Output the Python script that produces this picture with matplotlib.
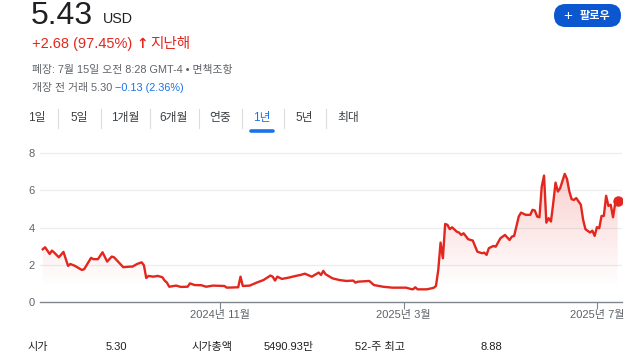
import numpy as np
import matplotlib.pyplot as plt
from matplotlib.patches import FancyBboxPatch

# Trading-day index (0 = start of the 1-year window) and closing price (USD)
day = [0, 1, 3, 4, 5, 7, 9, 11, 12, 14, 17, 18, 21, 22, 24, 26, 28, 30, 31, 35,
       38, 39, 41, 43, 44, 45, 46, 48, 50, 52, 53, 54, 55, 58, 60, 63, 64, 66, 69, 71,
       74, 79, 80, 85, 86, 87, 90, 93, 96, 99, 100, 101, 102, 104, 107, 110, 112, 114, 117, 119,
       120, 121, 122, 123, 126, 129, 132, 135, 136, 137, 142, 144, 148, 152, 158, 160, 161, 162, 163, 167,
       170, 171, 172, 173, 174, 175, 176, 177, 178, 180, 181, 182, 183, 185, 187, 189, 191, 192, 193, 194,
       196, 197, 199, 201, 203, 204, 205, 207, 208, 210, 212, 213, 214, 215, 216, 217, 218, 219, 220, 221,
       222, 223, 224, 225, 227, 228, 229, 230, 231, 232, 234, 235, 236, 238, 239, 240, 241, 242, 243, 244,
       245, 246, 247, 248, 249, 250]
price = [2.83, 2.94, 2.58, 2.76, 2.65, 2.40, 2.69, 1.94, 2.04, 1.94, 1.72, 1.76, 2.37, 2.30, 2.30, 2.67, 2.17, 2.44, 2.40, 1.87,
         1.90, 1.90, 2.04, 2.13, 1.97, 1.29, 1.40, 1.36, 1.40, 1.33, 1.15, 1.04, 0.82, 0.88, 0.81, 0.82, 1.00, 0.91, 0.90, 0.82,
         0.88, 0.86, 0.77, 0.79, 1.36, 0.86, 0.88, 1.04, 1.18, 1.42, 1.36, 1.15, 1.36, 1.24, 1.31, 1.40, 1.45, 1.52, 1.36, 1.51,
         1.58, 1.45, 1.67, 1.49, 1.27, 1.18, 1.13, 1.15, 1.04, 1.09, 1.13, 0.91, 0.82, 0.77, 0.77, 0.70, 0.68, 0.79, 0.68, 0.68,
         0.76, 0.86, 1.72, 3.19, 2.35, 4.19, 4.14, 3.91, 4.01, 3.78, 3.73, 3.60, 3.69, 3.37, 3.30, 2.70, 2.62, 2.65, 2.53, 2.89,
         3.01, 2.97, 3.42, 3.60, 3.33, 3.51, 3.55, 4.59, 4.80, 4.68, 4.68, 4.95, 4.91, 4.59, 4.55, 6.20, 6.79, 4.26, 4.50, 4.32,
         5.31, 6.41, 5.93, 6.11, 6.88, 6.60, 5.93, 5.52, 5.48, 5.58, 5.22, 4.41, 3.91, 3.73, 3.83, 3.55, 4.02, 3.96, 4.62, 4.62,
         5.70, 5.16, 5.22, 4.55, 5.34, 5.43]

yticks = [0, 2, 4, 6, 8]
xtick_pos = [77, 157, 241]
xtick_labels = ['2024년 11월', '2025년 3월', '2025년 7월']
tabs = ['1일', '5일', '1개월', '6개월', '연중', '1년', '5년', '최대']

RED = '#e3261e'
BLUE = '#1a73e8'
GRAY = '#5f6368'
DARK = '#202124'
plt.rcParams['font.family'] = ['Liberation Sans', 'Noto Sans CJK KR', 'DejaVu Sans']

W, H = 640, 360
fig = plt.figure(figsize=(6.4, 3.6), dpi=100)

# overlay axes in pixel coordinates for the page furniture
pg = fig.add_axes([0, 0, 1, 1])
pg.set_xlim(0, W)
pg.set_ylim(H, 0)
pg.axis('off')

# Chart area
ymax = 8.3
ax = fig.add_axes([40 / W, 1 - 302 / H, 582 / W, ymax * 18.625 / H])
xmin, xmax = -1.2, 251.9

ax.plot(day, price, color=RED, lw=1.7, solid_joinstyle='round', zorder=3)
ax.plot(day[-1], price[-1], 'o', color=RED, ms=6.5, zorder=4)

# gradient fill under the line
poly = ax.fill_between(day, price, 0, facecolor='none', edgecolor='none')
vals = np.linspace(0, ymax, 200)
img = np.zeros((200, 1, 4))
img[:, 0, 0], img[:, 0, 1], img[:, 0, 2] = 0.89, 0.15, 0.12
img[:, 0, 3] = np.clip((vals - 0.8) / 6.2, 0, 1) * 0.22
im = ax.imshow(img, aspect='auto', origin='lower', extent=[xmin, xmax, 0, ymax], zorder=2)
im.set_clip_path(poly.get_paths()[0], transform=ax.transData)

ax.set_xlim(xmin, xmax)
ax.set_ylim(0, ymax)
ax.patch.set_alpha(0)
for s in ['top', 'right', 'left']:
    ax.spines[s].set_visible(False)
ax.spines['bottom'].set_color('#80868b')
ax.spines['bottom'].set_linewidth(1)
ax.set_yticks(yticks)
ax.set_yticklabels([str(v) for v in yticks])
ax.tick_params(axis='y', length=0, pad=4, labelsize=8, labelcolor=GRAY)
for v in yticks[1:]:
    ax.axhline(v, color='#ebedef', lw=0.9, zorder=1)
ax.set_xticks(xtick_pos)
ax.set_xticklabels(xtick_labels)
ax.tick_params(axis='x', length=5, width=0.8, color='#80868b', pad=1, labelsize=8, labelcolor=GRAY)

# Header
pg.text(31, 23.5, '5.43', fontsize=23, color=DARK, va='baseline', ha='left')
pg.text(103, 23, 'USD', fontsize=10.3, color=DARK, va='baseline', ha='left')
pg.text(32, 48, '+2.68 (97.45%)', fontsize=10.5, color=RED, va='baseline', ha='left')
pg.text(136, 48, '↑', fontsize=10, color=RED, va='baseline', ha='left', fontweight='bold',
        family=['DejaVu Sans'])
pg.text(150, 48, '지난해', fontsize=10.5, color=RED, va='baseline', ha='left')
pg.text(32, 73, '폐장: 7월 15일 오전 8:28 GMT-4 • 면책조항', fontsize=7.8, color=GRAY,
        va='baseline', ha='left')
pg.text(32, 91, '개장 전 거래 5.30', fontsize=7.8, color=GRAY, va='baseline', ha='left')
pg.text(115, 91, '−0.13 (2.36%)', fontsize=7.8, color=BLUE, va='baseline', ha='left')

# Follow button
pg.add_patch(FancyBboxPatch((554, 4), 67, 23, boxstyle='round,pad=0,rounding_size=11.5',
                            facecolor='#0b57d0', edgecolor='none'))
pg.text(568, 16, '+', fontsize=11, color='white', va='center', ha='center')
pg.text(595, 16, '팔로우', fontsize=8, color='white', fontweight='bold', va='center', ha='center')

# Range tabs
tab_x = [37, 79, 125, 174, 220, 262, 304, 348]
sep_x = [58, 101, 150, 199, 242, 284, 326]
for lbl, x in zip(tabs, tab_x):
    col = BLUE if lbl == '1년' else '#3c4043'
    pg.text(x, 117.5, lbl, fontsize=8.5, color=col, va='center', ha='center')
for x in sep_x:
    pg.plot([x, x], [109, 128], color='#dadce0', lw=0.8)
pg.plot([251, 273], [131, 131], color=BLUE, lw=2.6, solid_capstyle='round')

# Key stats row
pg.text(28, 347, '시가', fontsize=8, color=DARK, va='center', ha='left')
pg.text(127, 347, '5.30', fontsize=8, color=DARK, va='center', ha='right')
pg.text(192, 347, '시가총액', fontsize=8, color=DARK, va='center', ha='left')
pg.text(314, 347, '5490.93만', fontsize=8, color=DARK, va='center', ha='right')
pg.text(355, 347, '52-주 최고', fontsize=8, color=DARK, va='center', ha='left')
pg.text(502, 347, '8.88', fontsize=8, color=DARK, va='center', ha='right')

fig.savefig('out.png', dpi=100)
